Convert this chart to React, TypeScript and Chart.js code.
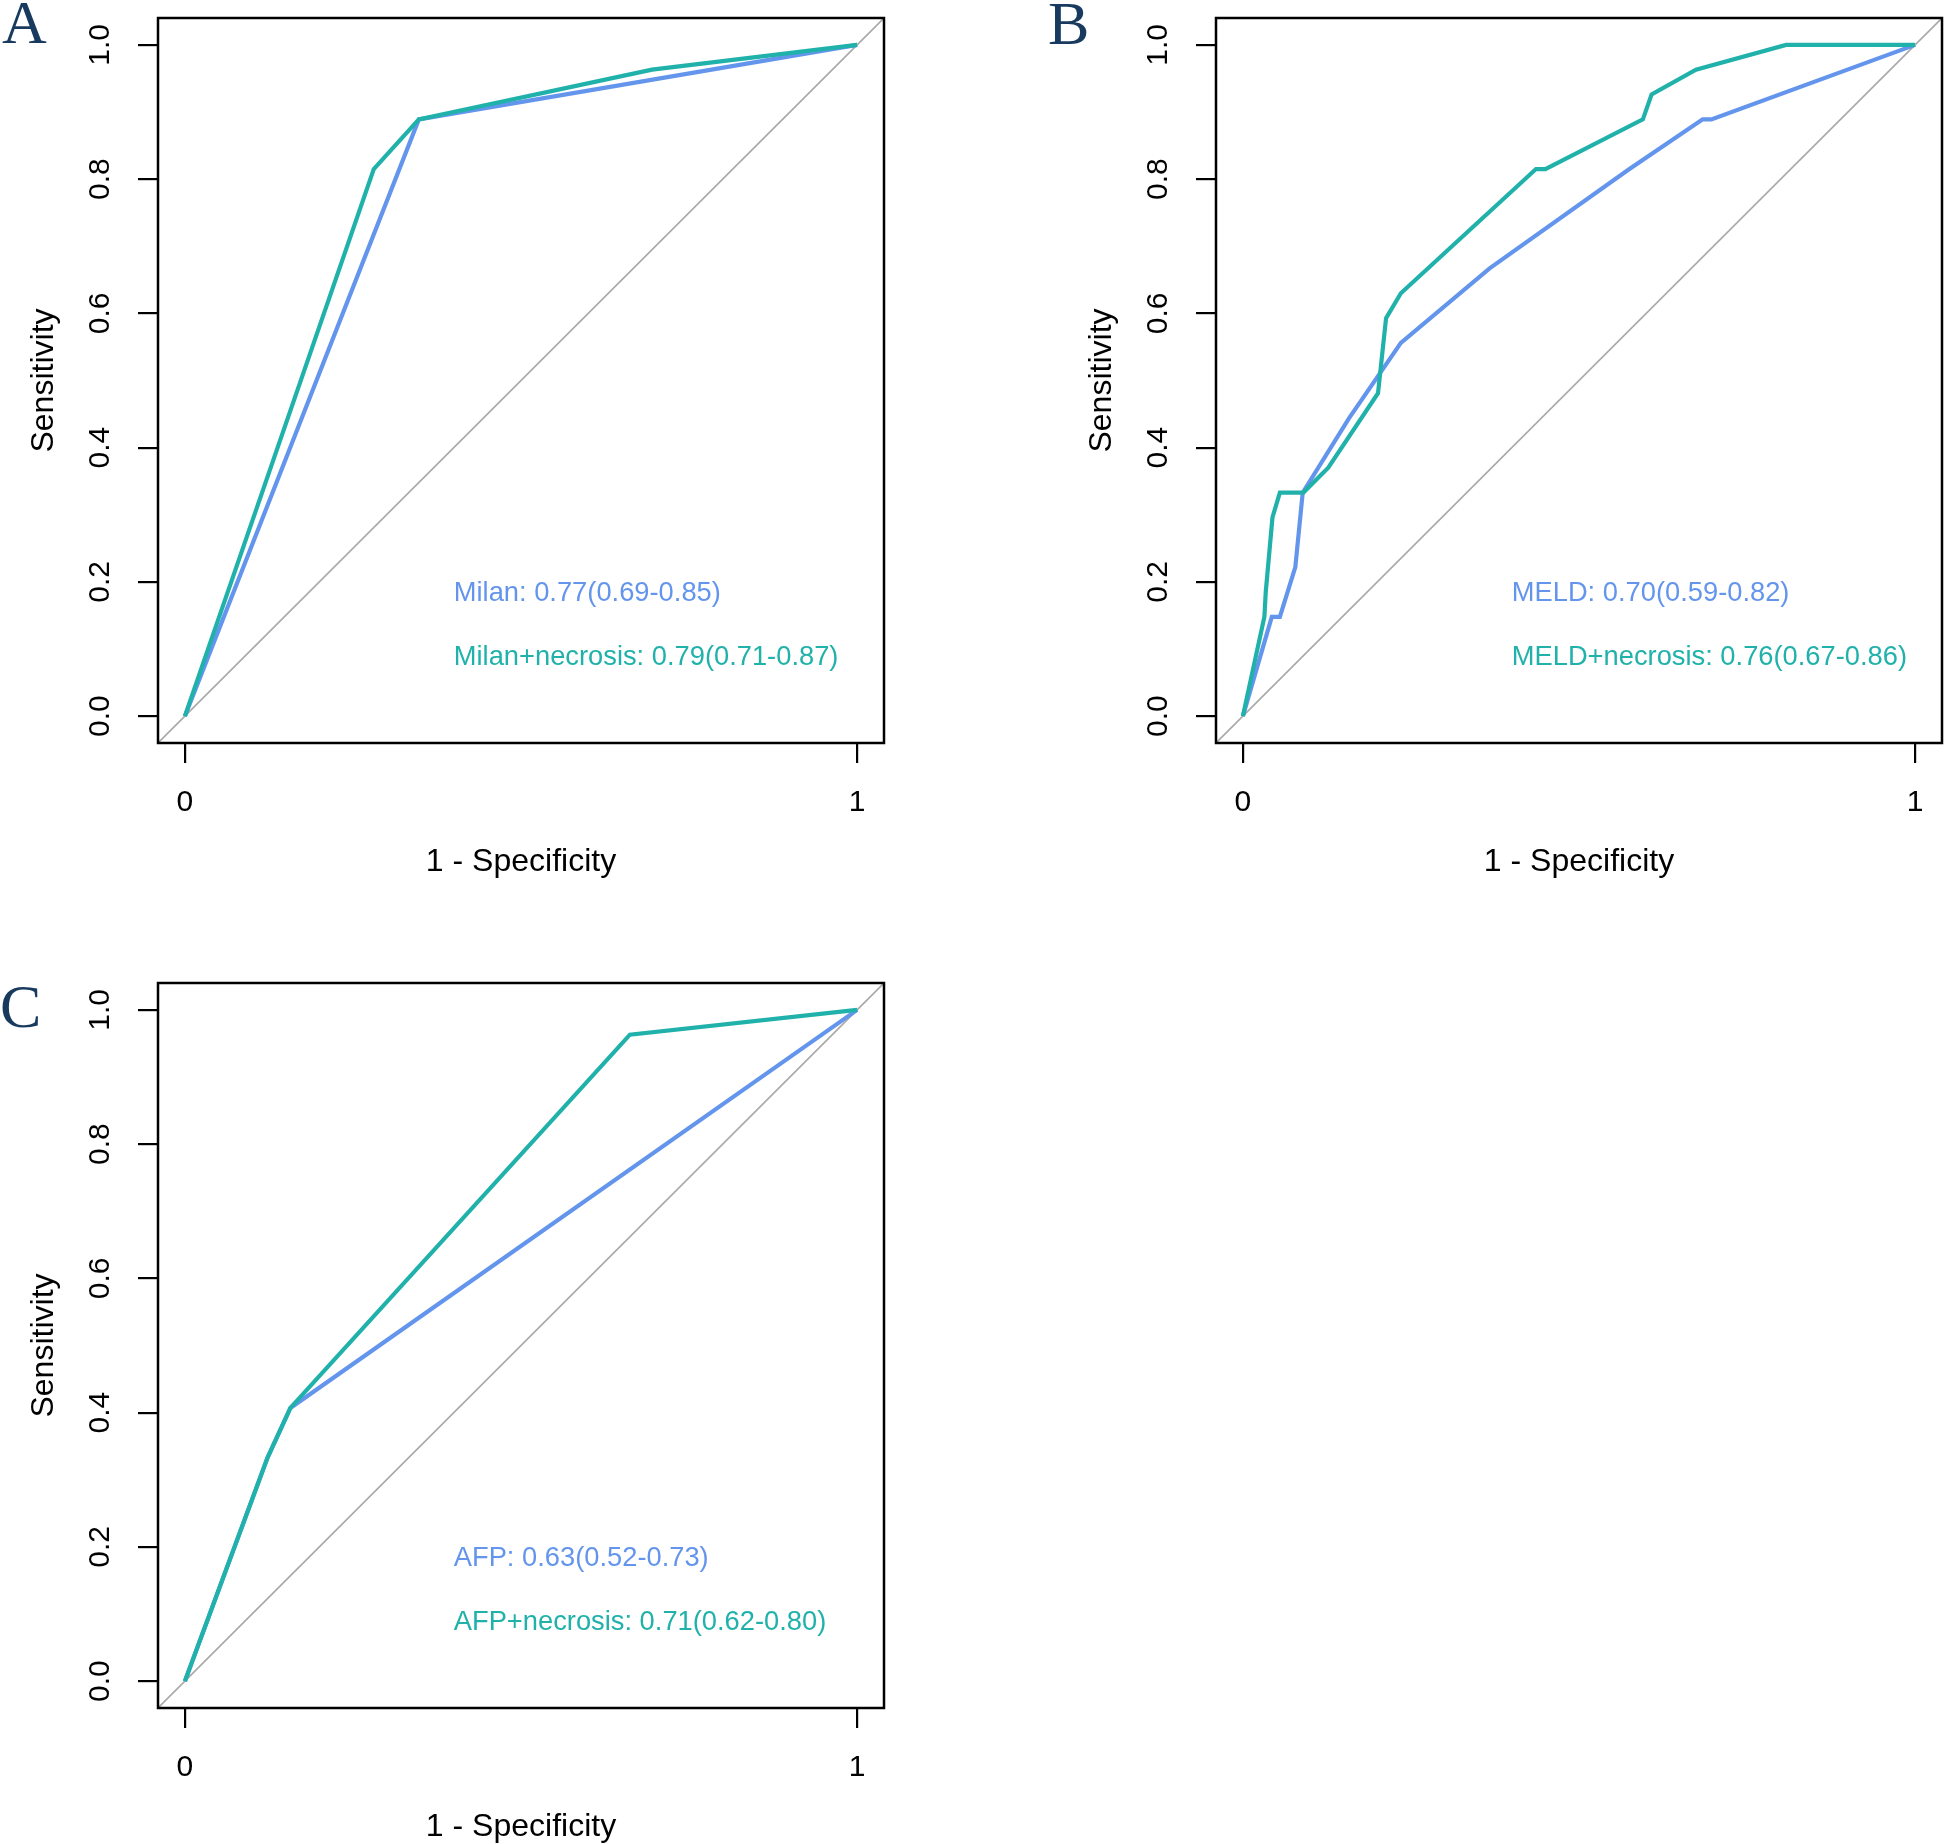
import React, { useEffect, useRef } from "react";
import { Chart, registerables } from "chart.js";

Chart.register(...registerables);

// ---------- data ----------
const xTicks = [0, 1];
const yTicks = [0, 0.2, 0.4, 0.6, 0.8, 1.0];
const refLine = [-0.04, 1.04];

// Panel A
const milanFpr = [0, 0.348, 1];
const milanTpr = [0, 0.889, 1];
const milanNecFpr = [0, 0.281, 0.348, 0.695, 1];
const milanNecTpr = [0, 0.815, 0.889, 0.963, 1];

// Panel B
const meldFpr = [0, 0.043, 0.055, 0.078, 0.089, 0.158, 0.235, 0.367, 0.575, 0.684, 0.697, 1];
const meldTpr = [0, 0.148, 0.148, 0.222, 0.333, 0.444, 0.556, 0.667, 0.815, 0.889, 0.889, 1];
const meldNecFpr = [0, 0.032, 0.034, 0.044, 0.055, 0.09, 0.127, 0.201, 0.213, 0.235, 0.436, 0.45, 0.595, 0.608, 0.674, 0.808, 1];
const meldNecTpr = [0, 0.148, 0.185, 0.296, 0.333, 0.333, 0.37, 0.481, 0.593, 0.63, 0.815, 0.815, 0.889, 0.926, 0.963, 1, 1];

// Panel C
const afpFpr = [0, 0.123, 0.157, 1];
const afpTpr = [0, 0.333, 0.407, 1];
const afpNecFpr = [0, 0.123, 0.157, 0.662, 1];
const afpNecTpr = [0, 0.333, 0.407, 0.963, 1];

const panelLetters = ["A", "B", "C"];
const singleLabels = ["Milan: 0.77(0.69-0.85)", "MELD: 0.70(0.59-0.82)", "AFP: 0.63(0.52-0.73)"];
const combinedLabels = [
  "Milan+necrosis: 0.79(0.71-0.87)",
  "MELD+necrosis: 0.76(0.67-0.86)",
  "AFP+necrosis: 0.71(0.62-0.80)",
];

// ---------- styles ----------
const BLUE = "#6495ED";
const TEAL = "#20B2AA";
const GREY = "#a9a9a9";
const SANS = "'Liberation Sans', Arial, Helvetica, sans-serif";
const SERIF = "'Liberation Serif', 'Times New Roman', serif";
const LETTER_COLOR = "#173a5e";

const CANVAS_W = 886;
const CANVAS_H = 879;

const pts = (xs: number[], ys: number[]) => xs.map((x, i) => ({ x, y: ys[i] }));

const boxPlugin = {
  id: "rbox",
  afterDraw(chart: any, _args: any, opts: any) {
    const { ctx, chartArea } = chart;
    const { left, top, right, bottom } = chartArea;
    ctx.save();
    ctx.strokeStyle = "#000";
    ctx.lineWidth = 2.5;
    ctx.strokeRect(left, top, right - left, bottom - top);
    const xs = chart.scales.x;
    const ys = chart.scales.y;
    ctx.font = `27.3px ${SANS}`;
    ctx.textAlign = "left";
    ctx.textBaseline = "middle";
    (opts.labels || []).forEach((l: any) => {
      ctx.fillStyle = l.color;
      ctx.fillText(l.text, xs.getPixelForValue(l.x), ys.getPixelForValue(l.y));
    });
    ctx.restore();
  },
};

type PanelProps = {
  left: number;
  top: number;
  letter: string;
  letterLeft: number;
  letterTop: number;
  singleX: number[];
  singleY: number[];
  combX: number[];
  combY: number[];
  singleText: string;
  combText: string;
};

function RocPanel(p: PanelProps) {
  const ref = useRef<HTMLCanvasElement | null>(null);
  useEffect(() => {
    if (!ref.current) return;
    const grid = {
      display: true,
      drawOnChartArea: false,
      drawTicks: true,
      tickLength: 20,
      tickWidth: 2.2,
      tickColor: "#000",
      lineWidth: 2.2,
      color: "#000",
    };
    const zeroPad = (s: any) => {
      s.paddingLeft = 0;
      s.paddingRight = 0;
      s.paddingTop = 0;
      s.paddingBottom = 0;
    };
    const chart = new Chart(ref.current, {
      type: "line",
      data: {
        datasets: [
          {
            label: "combined",
            data: pts(p.combX, p.combY),
            borderColor: TEAL,
            backgroundColor: TEAL,
            borderWidth: 4.2,
            pointRadius: 0,
            tension: 0,
            fill: false,
            order: 0,
          },
          {
            label: "single",
            data: pts(p.singleX, p.singleY),
            borderColor: BLUE,
            backgroundColor: BLUE,
            borderWidth: 4.2,
            pointRadius: 0,
            tension: 0,
            fill: false,
            order: 1,
          },
          {
            label: "reference",
            data: pts(refLine, refLine),
            borderColor: GREY,
            backgroundColor: GREY,
            borderWidth: 1.6,
            pointRadius: 0,
            tension: 0,
            fill: false,
            order: 2,
          },
        ],
      },
      options: {
        animation: false,
        responsive: false,
        devicePixelRatio: 1,
        events: [],
        layout: { padding: { top: 18, right: 2, left: 0, bottom: 0 } },
        plugins: {
          legend: { display: false },
          tooltip: { enabled: false },
          rbox: {
            labels: [
              { text: p.singleText, color: BLUE, x: 0.4, y: 0.183 },
              { text: p.combText, color: TEAL, x: 0.4, y: 0.087 },
            ],
          },
        } as any,
        scales: {
          x: {
            type: "linear",
            min: -0.04,
            max: 1.04,
            afterBuildTicks: (s: any) => {
              s.ticks = xTicks.map((v) => ({ value: v }));
            },
            afterFit: (s: any) => {
              s.height = 136;
              zeroPad(s);
            },
            grid,
            border: { display: false },
            ticks: {
              autoSkip: false,
              padding: 22,
              minRotation: 0,
              maxRotation: 0,
              color: "#000",
              font: { family: SANS, size: 30 },
              callback: (v: any) => String(v),
            },
            title: {
              display: true,
              text: "1 - Specificity",
              color: "#000",
              font: { family: SANS, size: 32, lineHeight: 1.05 },
              padding: 0,
            },
          },
          y: {
            type: "linear",
            min: -0.04,
            max: 1.04,
            afterBuildTicks: (s: any) => {
              s.ticks = yTicks.map((v) => ({ value: v }));
            },
            afterFit: (s: any) => {
              s.width = 158;
              zeroPad(s);
            },
            grid,
            border: { display: false },
            ticks: {
              autoSkip: false,
              padding: 16,
              minRotation: 90,
              maxRotation: 90,
              crossAlign: "center",
              color: "#000",
              font: { family: SANS, size: 30 },
              callback: (v: any) => Number(v).toFixed(1),
            },
            title: {
              display: true,
              text: "Sensitivity",
              color: "#000",
              font: { family: SANS, size: 32, lineHeight: 1.2 },
              padding: { top: 25, bottom: 0 },
            },
          },
        },
      } as any,
      plugins: [boxPlugin as any],
    });
    return () => chart.destroy();
  }, []);

  return (
    <>
      <canvas
        ref={ref}
        width={CANVAS_W}
        height={CANVAS_H}
        style={{ position: "absolute", left: p.left, top: p.top, width: CANVAS_W, height: CANVAS_H }}
      />
      <div
        style={{
          position: "absolute",
          left: p.letterLeft,
          top: p.letterTop,
          fontFamily: SERIF,
          fontSize: 62,
          lineHeight: 1,
          color: LETTER_COLOR,
        }}
      >
        {p.letter}
      </div>
    </>
  );
}

export default function App() {
  return (
    <div
      style={{
        position: "absolute",
        left: 0,
        top: 0,
        width: 1944,
        height: 1844,
        background: "#fff",
        overflow: "hidden",
      }}
    >
      <RocPanel
        left={0}
        top={0}
        letter={panelLetters[0]}
        letterLeft={2}
        letterTop={-9}
        singleX={milanFpr}
        singleY={milanTpr}
        combX={milanNecFpr}
        combY={milanNecTpr}
        singleText={singleLabels[0]}
        combText={combinedLabels[0]}
      />
      <RocPanel
        left={1058}
        top={0}
        letter={panelLetters[1]}
        letterLeft={1048}
        letterTop={-8}
        singleX={meldFpr}
        singleY={meldTpr}
        combX={meldNecFpr}
        combY={meldNecTpr}
        singleText={singleLabels[1]}
        combText={combinedLabels[1]}
      />
      <RocPanel
        left={0}
        top={965}
        letter={panelLetters[2]}
        letterLeft={0}
        letterTop={975}
        singleX={afpFpr}
        singleY={afpTpr}
        combX={afpNecFpr}
        combY={afpNecTpr}
        singleText={singleLabels[2]}
        combText={combinedLabels[2]}
      />
    </div>
  );
}
